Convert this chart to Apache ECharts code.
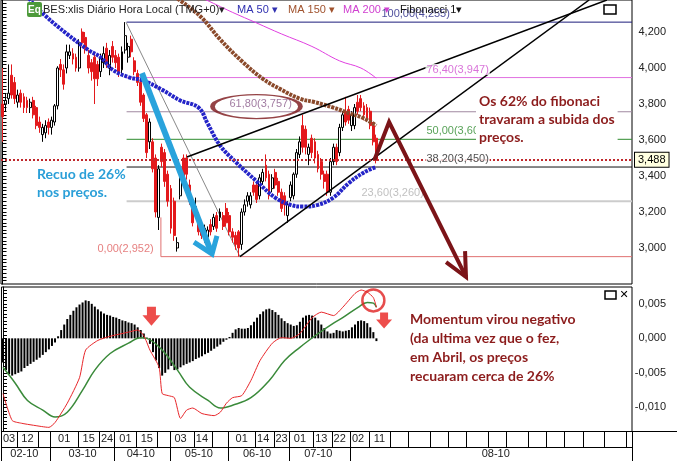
<!DOCTYPE html>
<html><head><meta charset="utf-8">
<script src="https://cdn.jsdelivr.net/npm/echarts@6/dist/echarts.min.js"></script>
<style>html,body{margin:0;padding:0;background:#fff}#c{width:677px;height:461px}</style>
</head><body><div id="c"></div>
<script>
// ---------- DATA ----------
const SLOTS = 206; // daily slots on the time axis (data + empty future)
// [open, close, low, high]
const candles = [
[3.80,3.73,3.59,4.00],[3.80,3.82,3.76,3.86],[3.83,3.86,3.80,4.02],[3.96,3.85,3.83,4.02],[3.92,3.83,3.80,3.95],
[3.81,3.85,3.78,3.88],[3.86,3.81,3.78,3.88],[3.84,3.78,3.75,3.86],[3.82,3.78,3.75,3.84],[3.78,3.81,3.75,3.83],
[3.82,3.74,3.72,3.84],[3.78,3.68,3.66,3.79],[3.70,3.67,3.64,3.73],[3.63,3.67,3.59,3.69],[3.64,3.68,3.61,3.71],
[3.70,3.67,3.63,3.72],[3.67,3.71,3.63,3.73],[3.70,3.79,3.68,3.80],[3.79,4.00,3.77,4.01],[4.02,3.99,3.95,4.05],
[3.99,3.91,3.88,4.02],[4.00,4.09,3.97,4.13],[4.07,4.09,4.05,4.13],[4.08,4.05,4.02,4.11],[4.06,4.00,3.98,4.08],
[4.00,4.14,3.98,4.16],[4.20,4.14,4.12,4.22],[4.17,4.11,4.08,4.20],[4.07,4.00,3.97,4.10],[4.03,3.98,3.93,4.05],
[4.06,3.94,3.80,4.08],[4.02,3.94,3.90,4.04],[3.98,4.06,3.95,4.08],[4.03,4.08,4.00,4.12],[4.11,4.02,4.00,4.14],
[4.00,4.07,3.96,4.10],[4.12,4.06,4.03,4.15],[4.07,4.03,4.00,4.10],[4.06,3.98,3.95,4.08],[3.99,4.09,3.97,4.12],
[4.10,4.18,4.08,4.255],[4.06,4.12,4.03,4.14],[4.16,4.09,4.06,4.18],[4.04,3.98,3.96,4.06],[3.97,3.92,3.90,3.99],
[3.92,3.81,3.79,3.94],[3.85,3.72,3.70,3.86],[3.74,3.53,3.50,3.75],[3.59,3.70,3.55,3.72],[3.59,3.44,3.42,3.61],
[3.50,3.20,3.17,3.52],[3.17,3.44,3.10,3.46],[3.56,3.48,3.45,3.58],[3.53,3.37,3.34,3.55],[3.41,3.26,3.23,3.43],
[3.33,3.11,3.08,3.35],[3.26,3.07,3.04,3.28],[3.00,3.03,2.98,3.06],[3.29,3.41,3.27,3.43],[3.50,3.37,3.35,3.52],
[3.50,3.41,3.38,3.52],[3.35,3.26,3.24,3.38],[3.22,3.14,3.12,3.24],[3.20,3.23,3.17,3.28],[3.18,3.09,3.07,3.20],
[3.13,3.07,3.05,3.15],[3.07,3.11,3.03,3.13],[3.06,3.10,3.00,3.12],[3.13,3.09,3.07,3.16],[3.12,3.17,3.10,3.19],
[3.18,3.11,3.09,3.20],[3.17,3.20,3.15,3.22],[3.18,3.12,3.10,3.20],[3.22,3.14,3.12,3.25],[3.18,3.09,3.07,3.20],
[3.09,3.06,3.03,3.11],[3.07,3.02,2.99,3.09],[3.09,3.00,2.952,3.10],[3.02,3.20,2.99,3.22],[3.20,3.24,3.18,3.27],
[3.26,3.29,3.23,3.31],[3.24,3.29,3.22,3.31],[3.35,3.31,3.29,3.37],[3.35,3.27,3.25,3.37],[3.29,3.39,3.27,3.41],
[3.37,3.42,3.35,3.44],[3.46,3.39,3.37,3.52],[3.41,3.29,3.27,3.43],[3.33,3.39,3.31,3.41],[3.42,3.35,3.33,3.44],
[3.37,3.31,3.29,3.39],[3.31,3.22,3.20,3.33],[3.29,3.24,3.18,3.31],[3.18,3.24,3.14,3.26],[3.28,3.35,3.26,3.37],
[3.29,3.41,3.27,3.42],[3.41,3.53,3.39,3.55],[3.52,3.59,3.50,3.62],[3.68,3.56,3.53,3.74],[3.66,3.56,3.52,3.68],
[3.52,3.56,3.46,3.58],[3.61,3.53,3.50,3.63],[3.59,3.50,3.47,3.61],[3.52,3.44,3.42,3.54],[3.48,3.41,3.38,3.50],
[3.41,3.37,3.33,3.43],[3.41,3.31,3.29,3.43],[3.31,3.48,3.29,3.50],[3.48,3.56,3.46,3.58],[3.56,3.48,3.46,3.58],
[3.53,3.67,3.51,3.69],[3.67,3.74,3.65,3.76],[3.76,3.70,3.68,3.84],[3.77,3.71,3.69,3.79],[3.68,3.74,3.65,3.76],
[3.68,3.78,3.66,3.80],[3.81,3.76,3.74,3.85],[3.83,3.78,3.76,3.85],[3.79,3.74,3.71,3.81],[3.78,3.72,3.70,3.80],
[3.76,3.68,3.66,3.78],[3.68,3.59,3.57,3.70],[3.61,3.488,3.47,3.63]
];
const lastPrice = 3.488;
// moving averages read at sample points [slot, value]
const ma50 = [[6,4.49],[9,4.38],[14,4.29],[21,4.19],[28,4.10],[32,4.06],[36,3.99],[41,3.95],[46,3.93],[52,3.88],[58,3.82],[64,3.78],[67,3.69],[71,3.57],[76,3.48],[83,3.37],[89,3.28],[94,3.24],[98,3.23],[103,3.24],[108,3.28],[113,3.36],[118,3.42],[122,3.45]];
const ma150 = [[55,4.41],[60,4.35],[65,4.28],[71,4.16],[78,4.04],[85,3.94],[91,3.88],[97,3.83],[102,3.81],[108,3.78],[113,3.75],[118,3.72],[122,3.68]];
const ma200 = [[62,4.41],[65,4.39],[75,4.31],[83,4.25],[91,4.19],[101,4.12],[110,4.04],[117,4.00],[122,3.944]];
// Fibonacci retracement
const fibLevels = [100, 76.4, 61.8, 50, 38.2, 23.6, 0];
const fibPrices = [4.255, 3.947, 3.757, 3.604, 3.450, 3.260, 2.952];
// trend lines [slot, price]
const wedgeUpper = [[60.2,3.506],[197.3,4.378]];
const wedgeLower = [[77.5,2.952],[191.5,4.378]];
const fibDiagonal = [[40.3,4.255],[77.5,2.952]];
// momentum panel
const momHist = [
-0.0035,-0.0045,-0.0052,-0.0054,-0.0052,-0.0050,-0.0048,
-0.0043,-0.0040,-0.0037,-0.0034,-0.0031,-0.0028,-0.0024,-0.0020,-0.0016,-0.0011,-0.0006,
0.0003,0.0012,0.0020,0.0028,0.0034,0.0040,0.0045,0.0049,0.0052,0.0055,0.0054,
0.0050,0.0046,0.0042,0.0039,0.0036,0.0034,0.0033,0.0031,
0.0030,0.0028,0.0026,0.0025,0.0023,0.0022,0.0020,0.0016,0.0012,
0.0007,0.0001,
-0.0008,-0.0020,-0.0032,-0.0043,-0.0054,-0.0050,
-0.0045,-0.0040,-0.0046,-0.0045,-0.0042,-0.0039,
-0.0037,-0.0035,-0.0033,-0.0030,-0.0028,-0.0026,-0.0023,-0.0021,-0.0018,-0.0015,-0.0012,-0.0009,
-0.0005,-0.0002,0.0002,
0.0008,0.0013,0.0015,0.0014,0.0014,0.0015,0.0019,0.0024,
0.0030,0.0035,0.0039,0.0042,0.0043,
0.0041,0.0038,0.0034,0.0029,0.0025,0.0022,0.0020,
0.0018,0.0019,0.0024,0.0030,
0.0033,0.0034,0.0033,0.0030,0.0026,0.0020,
0.0015,0.0010,0.0007,0.0008,
0.0012,0.0011,0.0010,0.0011,0.0012,
0.0016,0.0020,0.0025,0.0026,0.0025,0.0022,0.0016,
0.0009,-0.0004
];
const momLine = [[0,-0.0080],[3,-0.0119],[6,-0.0123],[10,-0.0126],[15,-0.0129],[17,-0.0122],[21,-0.0094],[25,-0.0057],[27,-0.0017],[31,-0.0003],[35,0.0003],[41,0.0009],[44,0.0012],[46,0.0004],[48,-0.0017],[51,-0.0042],[52,-0.0080],[54,-0.0083],[56,-0.0086],[58,-0.0116],[60,-0.0104],[62,-0.0101],[65,-0.0109],[69,-0.0112],[71,-0.0107],[73,-0.0094],[75,-0.0086],[78,-0.0083],[81,-0.0061],[84,-0.0032],[88,-0.0007],[91,0.0001],[94,0.0000],[97,0.0007],[101,0.0030],[104,0.0038],[108,0.0033],[111,0.0045],[115,0.0065],[117,0.0070],[119,0.0067],[121,0.0059],[122,0.0045]];
const momSignal = [[0,-0.0042],[4,-0.0065],[8,-0.0090],[13,-0.0104],[17,-0.0114],[21,-0.0107],[26,-0.0075],[30,-0.0046],[35,-0.0022],[41,-0.0007],[45,0.0001],[47,0.0000],[52,-0.0017],[57,-0.0046],[61,-0.0071],[67,-0.0090],[71,-0.0101],[75,-0.0097],[81,-0.0086],[87,-0.0061],[92,-0.0032],[97,-0.0013],[103,0.0007],[108,0.0022],[111,0.0030],[116,0.0045],[119,0.0052],[121,0.0051],[122,0.0045]];
// date axis
const dayTickIdx = [0,5,12,16,25,32,37,44,51,55,63,69,74,83,89,94,102,108,114,120,127,133,140,146,152,159,165,172,178,184,190,197,204];
const dayLabelIdx = [2,8,20,28,34,40,47,58,65,78,85,91,97,104,110,116,123];
const dayLabelText = ['03','12','01','15','24','01','15','03','14','01','14','23','01','13','22','02','11'];
const monthTickIdx = [0,16,37,55,74,94,114];
const monthLabelIdx = [7,26,45,64,83,103,161];
const monthLabelText = ['02-10','03-10','04-10','05-10','06-10','07-10','08-10'];

// ---------- LAYOUT / STYLE ----------
const fibColors = ['#1c1c7c','#e070e0','#a088a0','#2e8b2e','#111111','#cccccc','#e07070'];
const fibLabelColors = ['#1c1c80','#d050d0','#8a5a8a','#2e8b2e','#222222','#b0b0b0','#e06060'];
const fibLineWidth = [1,1,1,1,1,2,1];
const fibLineStart = [40.5,40.5,40.5,40.5,40.5,40.5,51.7];
const fibLabelIdx = [123.2,137.9,73.6,137.9,137.9,116.7,30.5];
const fibLabelBg = [null,'#fff',null,'#fff','#fff','#fff',null];

const fmt3 = v => { if (Math.abs(v) < 1e-9) v = 0; return v.toFixed(3).replace('.', ','); };
const fmt2 = v => v.toFixed(2).replace('.', ',');
const slots = Array.from({length: SLOTS}, (_, i) => String(i));
const daySet = new Set(dayTickIdx);
const dayLab = new Map(dayLabelIdx.map((v, i) => [v, dayLabelText[i]]));
const monSet = new Set(monthTickIdx);
const monLab = new Map(monthLabelIdx.map((v, i) => [v, monthLabelText[i]]));

function ln(pts, style, z, g) {
  return {type: 'line', xAxisIndex: g || 0, yAxisIndex: g || 0, data: pts, symbol: 'none', showSymbol: false,
    lineStyle: style, z: z, silent: true, animation: false};
}

const series = [];
// fib lines
fibPrices.forEach((p, i) => {
  series.push(ln([[fibLineStart[i], p], [SLOTS - 0.5, p]], {color: fibColors[i], width: fibLineWidth[i]}, 1));
});
series.push(ln([[fibLineStart[6], fibPrices[6]], [fibLineStart[6], 3.17]], {color: fibColors[6], width: 1}, 1));
series.push(ln(fibDiagonal, {color: '#888', width: 1}, 1));
// candles
series.push({
  type: 'candlestick', xAxisIndex: 0, yAxisIndex: 0, z: 2, silent: true, animation: false,
  data: candles.map((d, i) => [i, d[0], d[1], d[2], d[3]]),
  barWidth: 2.4,
  itemStyle: {color: '#ffffff', color0: '#e3191c', borderColor: '#000000', borderColor0: '#e3191c', borderWidth: 1},
  markLine: {
    symbol: 'none', silent: true, animation: false,
    data: [{yAxis: lastPrice}],
    lineStyle: {color: '#c0282c', width: 2, type: [2, 2]},
    label: {show: true, position: 'end', distance: 3, formatter: () => fmt3(lastPrice),
      backgroundColor: '#ffffe0', borderColor: '#000', borderWidth: 1, padding: [2, 3, 1, 3],
      color: '#000', fontSize: 11, fontFamily: 'Arial'}
  }
});
// moving averages
series.push(ln(ma200, {color: '#e040e0', width: 1}, 3));
series[series.length - 1].smooth = 0.4;
series.push(Object.assign(ln(ma150, {color: '#8b4a2b', width: 4, type: [3, 1]}, 3), {smooth: 0.4}));
series.push(Object.assign(ln(ma50, {color: '#2424c8', width: 4, type: [3, 1]}, 3), {smooth: 0.4}));
// trend lines
series.push(ln(wedgeUpper, {color: '#000', width: 1.5}, 4));
series.push(ln(wedgeLower, {color: '#000', width: 1.5}, 4));
// fib labels
series.push({
  type: 'scatter', xAxisIndex: 0, yAxisIndex: 0, z: 5, silent: true, animation: false,
  symbolSize: 1, itemStyle: {color: 'rgba(0,0,0,0)'},
  data: fibPrices.map((p, i) => ({
    value: [fibLabelIdx[i], p],
    label: {color: fibLabelColors[i], backgroundColor: fibLabelBg[i] || 'transparent',
      formatter: fmt2(fibLevels[i]) + '(' + fmt3(p) + ')'}
  })),
  label: {show: true, position: 'right', distance: 0, offset: [0, -8], fontSize: 11, fontFamily: 'Arial', padding: [0, 1]}
});
// ellipse around 61.8 label
series.push({
  type: 'scatter', xAxisIndex: 0, yAxisIndex: 0, z: 6, silent: true, animation: false,
  symbol: 'circle', symbolSize: [88, 24],
  itemStyle: {color: 'rgba(0,0,0,0)', borderColor: '#7b1418', borderWidth: 2.5},
  data: [[82.9, 3.786]]
});
// blue arrow
series.push(ln([[45.5, 3.972], [68.1, 2.978]], {color: '#29a3dc', width: 6}, 6));
series.push(ln([[62.5, 3.033], [68.4, 2.967], [70.0, 3.067]], {color: '#29a3dc', width: 5, join: 'miter'}, 6));
// dark red arrow
series.push(ln([[121.4, 3.489], [126.2, 3.700], [151.3, 2.839]], {color: '#7b1418', width: 4, join: 'miter'}, 6));
series.push(ln([[144.8, 2.922], [151.3, 2.839], [151.0, 2.983]], {color: '#7b1418', width: 4, join: 'miter'}, 6));

// momentum panel
series.push({type: 'bar', xAxisIndex: 1, yAxisIndex: 1, z: 2, silent: true, animation: false,
  data: momHist.map((v, i) => [i, v]), barWidth: 2, itemStyle: {color: '#000'}});
series.push(Object.assign(ln(momSignal, {color: '#3a8a3a', width: 1.5}, 3, 1), {smooth: 0.4}));
series.push(Object.assign(ln(momLine, {color: '#e8262a', width: 1}, 3, 1), {smooth: 0.2}));
series.push({type: 'scatter', xAxisIndex: 1, yAxisIndex: 1, z: 6, silent: true, animation: false,
  symbol: 'circle', symbolSize: 22, itemStyle: {color: 'rgba(0,0,0,0)', borderColor: '#e02020', borderWidth: 2.5},
  data: [[121.0, 0.0055]]});
const downArrow = 'path://M2.5,0 L7.5,0 L7.5,4.5 L10,4.5 L5,10 L0,4.5 L2.5,4.5 Z';
series.push({type: 'scatter', xAxisIndex: 1, yAxisIndex: 1, z: 6, silent: true, animation: false,
  symbol: downArrow, itemStyle: {color: '#e8201e'},
  data: [{value: [48.5, 0.0032], symbolSize: [18, 19]}, {value: [124.5, 0.0026], symbolSize: [16, 16]}]});

const axisFont = {fontSize: 11, fontFamily: 'Arial', color: '#222'};
const option = {
  animation: false,
  backgroundColor: '#fff',
  textStyle: {fontFamily: 'Arial'},
  grid: [
    {left: 1, right: 45, top: 0, height: 284, show: true, borderColor: '#000', borderWidth: 1, backgroundColor: '#fff'},
    {left: 1, right: 45, top: 287, height: 144.5, show: true, borderColor: '#000', borderWidth: 1, backgroundColor: '#fff'}
  ],
  xAxis: [
    {type: 'value', gridIndex: 0, min: -0.5, max: SLOTS - 0.5, show: false},
    {type: 'value', gridIndex: 1, min: -0.5, max: SLOTS - 0.5, show: false},
    {type: 'category', gridIndex: 1, data: slots, position: 'bottom', boundaryGap: true,
      axisLine: {show: true, lineStyle: {color: '#000', width: 1}},
      axisTick: {show: true, interval: i => daySet.has(i), length: 15.5, lineStyle: {color: '#000', width: 1}},
      axisLabel: Object.assign({interval: i => dayLab.has(i), formatter: (v, i) => dayLab.get(i) || '', margin: 2, align: 'center'}, axisFont),
      splitLine: {show: false}},
    {type: 'category', gridIndex: 1, data: slots, position: 'bottom', offset: 15.5, boundaryGap: true,
      axisLine: {show: true, lineStyle: {color: '#000', width: 1}},
      axisTick: {show: true, interval: i => monSet.has(i), length: 15, lineStyle: {color: '#000', width: 1}},
      axisLabel: Object.assign({interval: i => monLab.has(i), formatter: (v, i) => monLab.get(i) || '', margin: 1, align: 'center'}, axisFont),
      splitLine: {show: false}}
  ],
  yAxis: [
    {type: 'value', gridIndex: 0, position: 'right', min: 2.8, max: 4.378, interval: 0.02,
      axisLine: {show: true, lineStyle: {color: '#000'}},
      axisTick: {show: true, length: 4, lineStyle: {color: '#000'}},
      splitLine: {show: false},
      axisLabel: Object.assign({margin: 34, align: 'right', showMinLabel: false, showMaxLabel: false,
        formatter: v => { const k = v * 5; return (Math.abs(k - Math.round(k)) < 1e-6 && v > 2.9 && v < 4.3) ? fmt3(v) : ''; }}, axisFont)},
    {type: 'value', gridIndex: 1, position: 'right', min: -0.0135, max: 0.00744, interval: 0.0005,
      axisLine: {show: true, lineStyle: {color: '#000'}},
      axisTick: {show: true, length: 4, lineStyle: {color: '#000'}},
      splitLine: {show: false},
      axisLabel: Object.assign({margin: 34, align: 'right', showMinLabel: false, showMaxLabel: false,
        formatter: v => { const k = v / 0.005; return (Math.abs(k - Math.round(k)) < 1e-6 && v > -0.0125 && v < 0.007) ? fmt3(v) : ''; }}, axisFont)}
  ],
  series: series,
  graphic: [
    {type: 'line', z: 100, shape: {x1: 632, y1: 431.5, x2: 677, y2: 431.5}, style: {stroke: '#000', lineWidth: 1}},
    {type: 'rect', z: 100, shape: {x: 27, y: 2, width: 15, height: 15, r: 2}, style: {fill: '#4d9a3a'}},
    {type: 'text', z: 101, x: 34.5, y: 10, style: {text: 'Eq', fill: '#fff', font: 'bold 10px Arial', textAlign: 'center', textVerticalAlign: 'middle'}},
    {type: 'text', z: 100, x: 43, y: 10, style: {text: 'BES:xlis Diário Hora Local (TMG+0)▾', fill: '#222', font: '11px Arial', textVerticalAlign: 'middle'}},
    {type: 'text', z: 100, x: 237, y: 10, style: {text: 'MA 50 ▾', fill: '#3030b0', font: '11px Arial', textVerticalAlign: 'middle'}},
    {type: 'text', z: 100, x: 288, y: 10, style: {text: 'MA 150 ▾', fill: '#a0522d', font: '11px Arial', textVerticalAlign: 'middle'}},
    {type: 'text', z: 100, x: 343, y: 10, style: {text: 'MA 200 ▾', fill: '#d040d0', font: '11px Arial', textVerticalAlign: 'middle'}},
    {type: 'text', z: 100, x: 400, y: 10, style: {text: 'Fibonacci 1▾', fill: '#111', font: '11px Arial', textVerticalAlign: 'middle'}},
    {type: 'rect', z: 100, shape: {x: 604, y: 5, width: 12, height: 9}, style: {fill: '#fff', stroke: '#000', lineWidth: 1.5}},
    {type: 'rect', z: 100, shape: {x: 605, y: 291, width: 11, height: 8}, style: {fill: '#fff', stroke: '#000', lineWidth: 1.5}},
    {type: 'text', z: 100, x: 624, y: 295, style: {text: '✕', fill: '#000', font: 'bold 11px "DejaVu Sans"', textAlign: 'center', textVerticalAlign: 'middle'}},
    {type: 'text', z: 100, x: 37, y: 165, style: {text: 'Recuo de 26%\nnos preços.', fill: '#2a9fd8', font: 'bold 14px Lato', lineHeight: 18}},
    {type: 'text', z: 100, x: 476, y: 92, style: {text: 'Os 62% do fibonaci\ntravaram a subida dos\npreços.', fill: '#8c1c1c', font: 'bold 14px Lato', lineHeight: 18, backgroundColor: '#fff', padding: [0, 3, 0, 3]}},
    {type: 'text', z: 100, x: 410, y: 310, style: {text: 'Momentum virou negativo\n(da ultima vez que o fez,\nem Abril, os preços\nrecuaram cerca de 26%', fill: '#8c1c1c', font: 'bold 14px Lato', lineHeight: 19}}
  ]
};
const chart = echarts.init(document.getElementById('c'), null, {renderer: 'canvas'});
chart.setOption(option);
</script>
</body></html>
